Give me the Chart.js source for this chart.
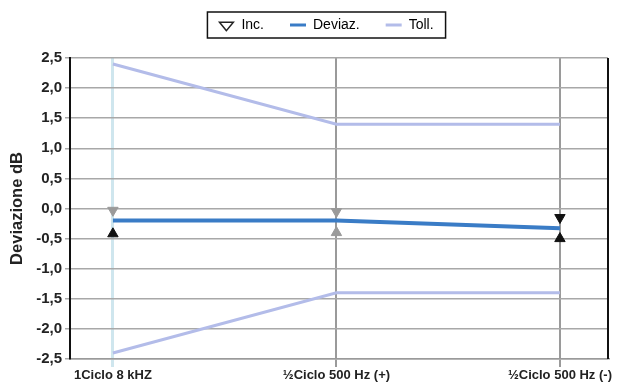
<!DOCTYPE html>
<html>
<head>
<meta charset="utf-8">
<script src="https://cdn.jsdelivr.net/npm/chart.js@4"></script>
<style>
  html, body { margin: 0; padding: 0; background: #fff; }
  #wrap { width: 625px; height: 387px; }
</style>
</head>
<body>
<div id="wrap"><canvas id="chart" width="625" height="387"></canvas></div>
<script>
// categorie asse x
const xLabels = ['1Ciclo 8 kHZ', '½Ciclo 500 Hz (+)', '½Ciclo 500 Hz (-)'];
// valori
const deviaz = [-0.2, -0.2, -0.33];
const tollUpper = [2.4, 1.4, 1.4];
const tollLower = [-2.4, -1.4, -1.4];
const incUpper = [-0.03, -0.05, -0.15];
const incLower = [-0.42, -0.4, -0.5];
const yTicks = [-2.5, -2.0, -1.5, -1.0, -0.5, 0.0, 0.5, 1.0, 1.5, 2.0, 2.5];

const incUpperColors = ['#9a9a9a', '#9a9a9a', '#111'];
const incLowerColors = ['#111', '#9a9a9a', '#111'];

const toPoints = (vals) => vals.map((v, i) => ({ x: i, y: v }));

Chart.defaults.font.family = '"Liberation Sans", Arial, sans-serif';
Chart.defaults.color = '#222';

// spazio extra sotto la legenda + spostamento a destra
const legendTweak = {
  id: 'legendTweak',
  beforeInit(chart) {
    const fit = chart.legend.fit;
    chart.legend.fit = function () {
      fit.bind(chart.legend)();
      this.height += 16;
    };
  },
  afterLayout(chart) {
    const lg = chart.legend;
    lg.left += 22;
    lg.right += 22;
  }
};

// cornice legenda e bordo destro
const frames = {
  id: 'frames',
  afterDraw(chart) {
    const ctx = chart.ctx;
    const area = chart.chartArea;
    ctx.save();
    ctx.strokeStyle = '#111';
    ctx.lineWidth = 2;
    ctx.beginPath();
    ctx.moveTo(area.right, area.top);
    ctx.lineTo(area.right, area.bottom);
    ctx.stroke();

    const boxes = chart.legend.legendHitBoxes;
    if (boxes && boxes.length) {
      const l = Math.min(...boxes.map(b => b.left)) - 11;
      const r = Math.max(...boxes.map(b => b.left + b.width)) + 12;
      const t = Math.min(...boxes.map(b => b.top)) - 6;
      const btm = Math.max(...boxes.map(b => b.top + b.height)) + 6;
      ctx.lineWidth = 1.5;
      ctx.strokeRect(l, t, r - l, btm - t);
    }
    ctx.restore();
  }
};

new Chart(document.getElementById('chart'), {
  type: 'line',
  data: {
    datasets: [
      {
        label: 'Inc.',
        data: toPoints(incUpper),
        showLine: false,
        pointStyle: 'triangle',
        rotation: 180,
        pointRadius: 6,
        pointBackgroundColor: incUpperColors,
        pointBorderColor: incUpperColors,
        order: 0
      },
      {
        label: 'Inc.',
        data: toPoints(incLower),
        showLine: false,
        pointStyle: 'triangle',
        pointRadius: 6,
        pointBackgroundColor: incLowerColors,
        pointBorderColor: incLowerColors,
        order: 0
      },
      {
        label: 'Deviaz.',
        data: toPoints(deviaz),
        borderColor: '#3a7cc6',
        borderWidth: 4,
        pointRadius: 0,
        tension: 0,
        order: 1
      },
      {
        label: 'Toll.',
        data: toPoints(tollUpper),
        borderColor: '#b3bce9',
        borderWidth: 3,
        pointRadius: 0,
        tension: 0,
        order: 2
      },
      {
        label: 'Toll.',
        data: toPoints(tollLower),
        borderColor: '#b3bce9',
        borderWidth: 3,
        pointRadius: 0,
        tension: 0,
        order: 2
      }
    ]
  },
  options: {
    responsive: false,
    animation: false,
    layout: { padding: { top: -8, right: 17, left: 0, bottom: 0 } },
    plugins: {
      tooltip: { enabled: false },
      legend: {
        position: 'top',
        labels: {
          usePointStyle: true,
          boxHeight: 8,
          pointStyleWidth: 16,
          padding: 26,
          font: { size: 14 },
          color: '#222',
          generateLabels() {
            return [
              { text: 'Inc.', pointStyle: 'triangle', rotation: 180, fillStyle: '#fff', strokeStyle: '#222', lineWidth: 1.5, datasetIndex: 0 },
              { text: 'Deviaz.', pointStyle: 'line', fillStyle: '#3a7cc6', strokeStyle: '#3a7cc6', lineWidth: 3, datasetIndex: 2 },
              { text: 'Toll.', pointStyle: 'line', fillStyle: '#b3bce9', strokeStyle: '#b3bce9', lineWidth: 3, datasetIndex: 3 }
            ];
          }
        }
      }
    },
    scales: {
      x: {
        type: 'linear',
        min: -0.192,
        max: 2.215,
        afterBuildTicks(scale) {
          scale.ticks = xLabels.map((_, i) => ({ value: i }));
        },
        afterFit(scale) { scale.height = 28; },
        ticks: {
          autoSkip: false,
          maxRotation: 0,
          padding: 1,
          font: { size: 13, weight: 'bold' },
          color: '#222',
          callback: (v) => xLabels[v]
        },
        grid: {
          color: (ctx) => ctx.index === 0 ? '#cfe6ee' : '#9a9a9a',
          lineWidth: (ctx) => ctx.index === 0 ? 3 : 2,
          tickLength: 8
        },
        border: { color: '#9a9a9a', width: 1.5 }
      },
      y: {
        min: -2.5,
        max: 2.5,
        afterBuildTicks(scale) {
          scale.ticks = yTicks.map(v => ({ value: v }));
        },
        afterFit(scale) { scale.width = 70; },
        title: {
          display: true,
          text: 'Deviazione dB',
          font: { size: 16.5, weight: 'bold' },
          color: '#222',
          padding: { top: 8, bottom: 0 }
        },
        ticks: {
          padding: 3,
          font: { size: 15, weight: 'bold' },
          color: '#222',
          callback: (v) => v.toFixed(1).replace('.', ',')
        },
        grid: { color: '#a8a8a8', lineWidth: 1.5, tickLength: 5 },
        border: { color: '#111', width: 2 }
      }
    }
  },
  plugins: [legendTweak, frames]
});
</script>
</body>
</html>
